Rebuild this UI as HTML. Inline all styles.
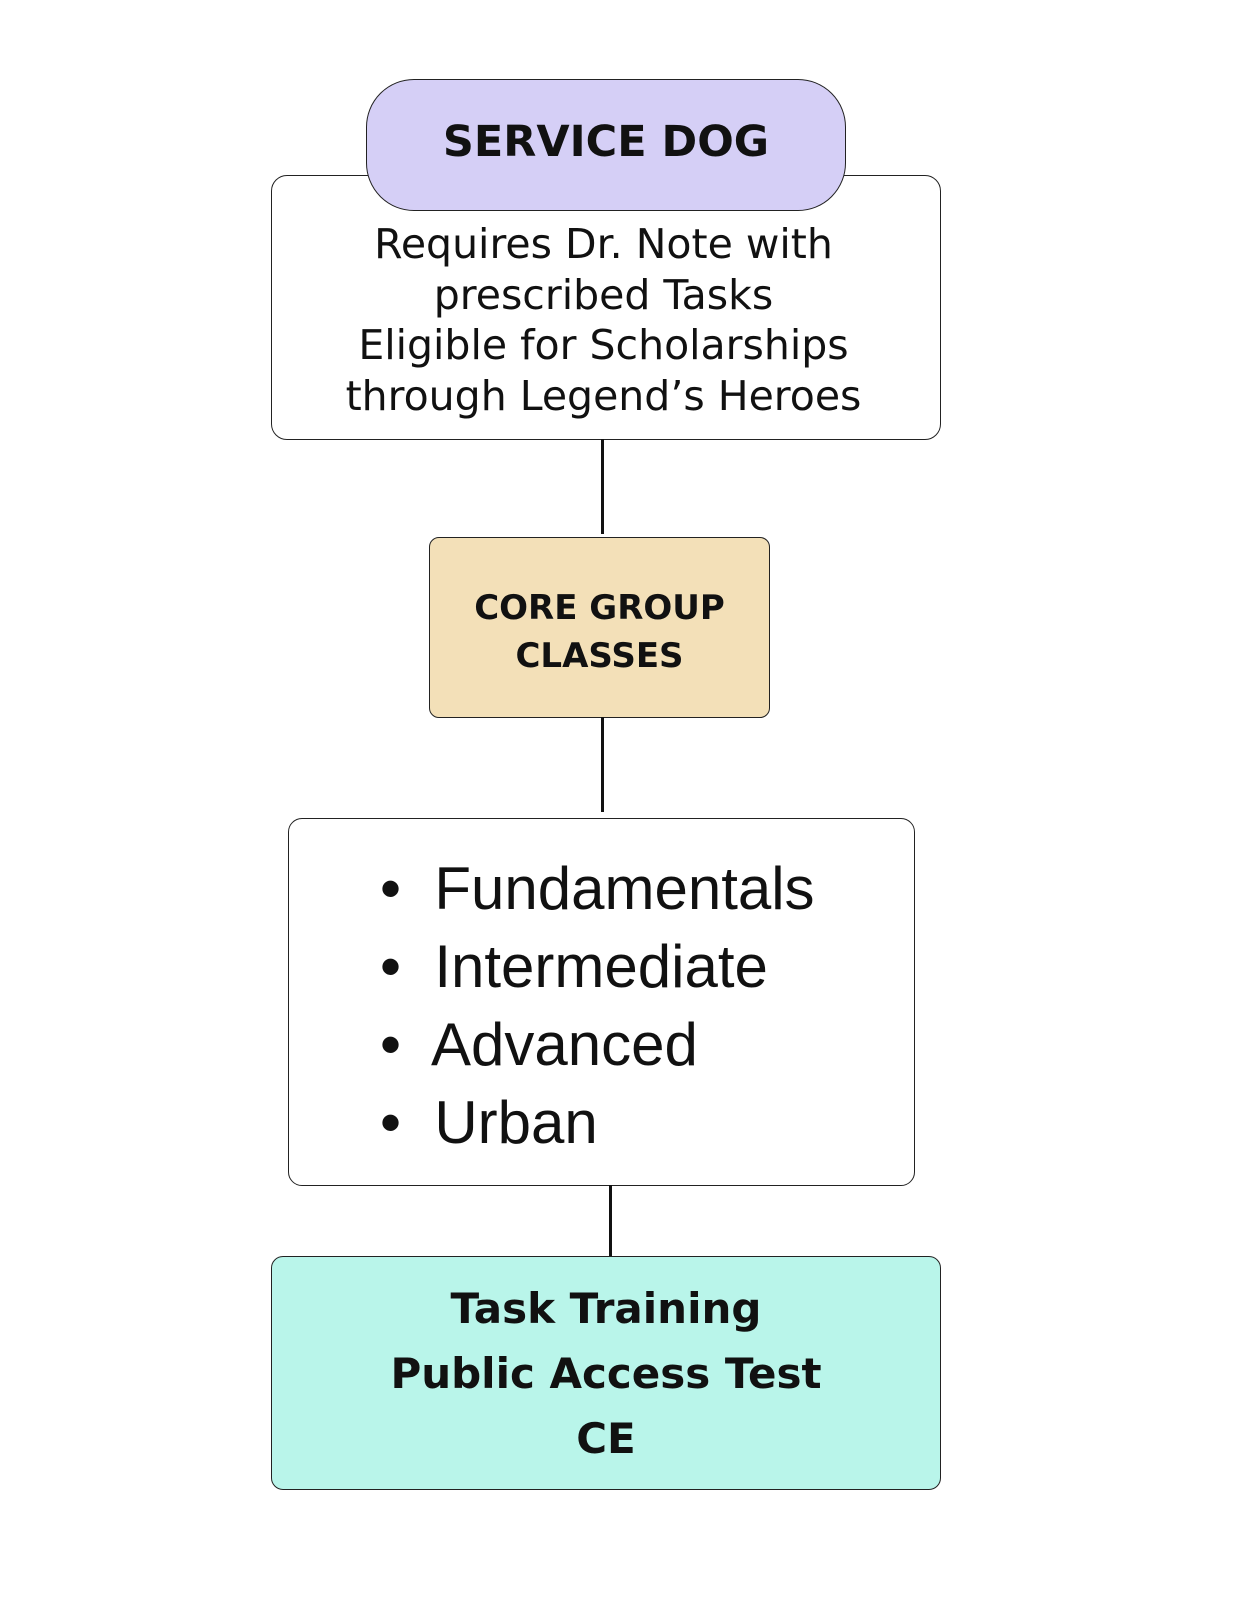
<!DOCTYPE html>
<html><head><style>
body{margin:0;width:1236px;height:1600px;background:#fff;position:relative;font-family:"Liberation Sans","DejaVu Sans",sans-serif;color:#111}
.b{position:absolute;box-sizing:border-box;border:1.5px solid #222}
.t{position:absolute;left:0;width:100%;text-align:center;white-space:nowrap}
.d{font-family:"DejaVu Sans",sans-serif}
.l{position:absolute;width:3px;background:#111}
</style></head><body>
<div class="b" style="left:271px;top:175px;width:670px;height:265px;border-radius:16px;background:#fff"></div>
<div class="b" style="left:366px;top:79px;width:480px;height:132px;border-radius:48px;background:#d5cff6"></div>
<div class="t d" style="left:366px;width:480px;top:114px;font-size:43px;font-weight:bold;line-height:56px">SERVICE DOG</div>
<div class="t d" style="left:271px;width:665px;top:219px;font-size:41px;line-height:50.5px">Requires Dr. Note with<br>prescribed Tasks<br>Eligible for Scholarships<br>through Legend’s Heroes</div>
<div class="l" style="left:601px;top:439px;height:95px"></div>
<div class="b" style="left:429px;top:537px;width:341px;height:181px;border-radius:10px;background:#f3e0b8"></div>
<div class="t d" style="left:429px;width:341px;top:584px;font-size:34px;font-weight:bold;line-height:48px">CORE GROUP<br>CLASSES</div>
<div class="l" style="left:601px;top:717px;height:95px"></div>
<div class="b" style="left:288px;top:818px;width:627px;height:368px;border-radius:14px;background:#fff"></div>
<div style="position:absolute;left:380px;top:850px;font-size:60px;line-height:78px;white-space:nowrap">
<div>•&nbsp; Fundamentals</div><div>•&nbsp; Intermediate</div><div>•&nbsp; Advanced</div><div>•&nbsp; Urban</div></div>
<div class="l" style="left:609px;top:1185px;height:71px"></div>
<div class="b" style="left:271px;top:1256px;width:670px;height:234px;border-radius:12px;background:#b9f5ea"></div>
<div class="t d" style="left:271px;width:670px;top:1276px;font-size:42px;font-weight:bold;line-height:65px">Task Training<br>Public Access Test<br>CE</div>
</body></html>
